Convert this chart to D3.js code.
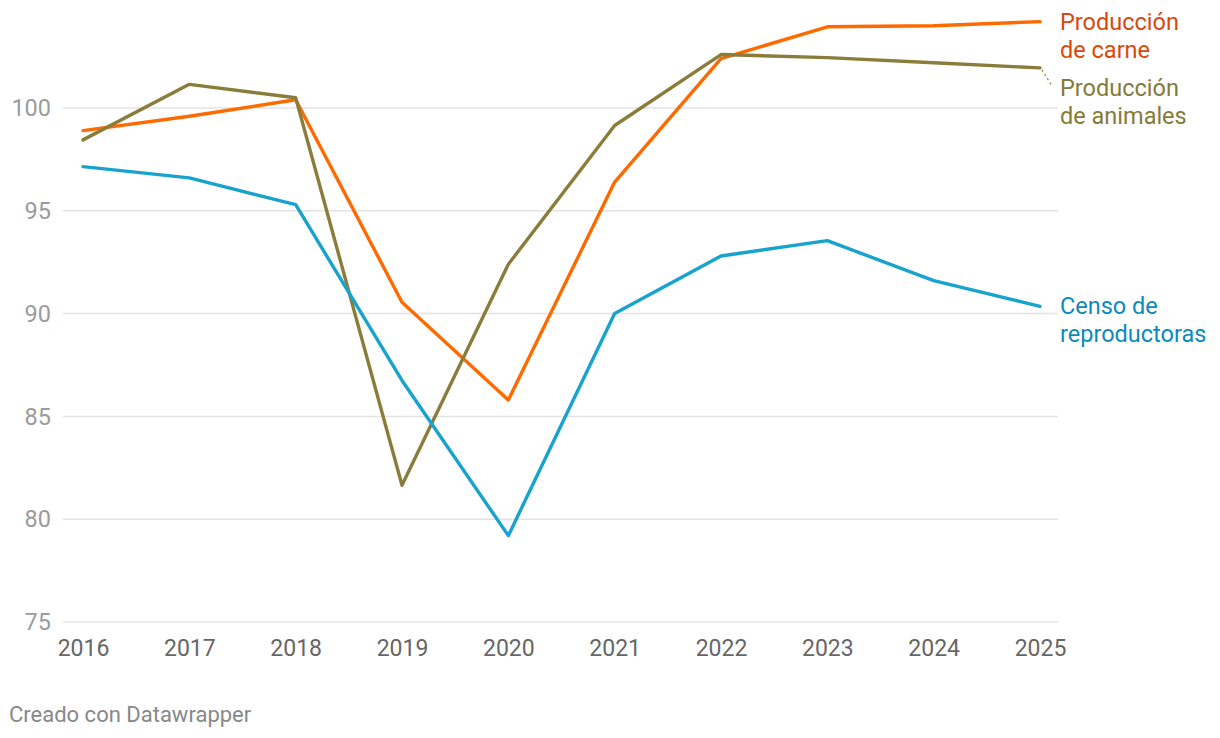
<!DOCTYPE html>
<html>
<head>
<meta charset="utf-8">
<script src="https://cdn.jsdelivr.net/npm/d3@7"></script>
<style>
  body { margin: 0; background: #fff; }
  text { font-family: Roboto, "Noto Sans", sans-serif; }
</style>
</head>
<body>
<svg width="1220" height="738"></svg>
<script>
// years on the x axis
var years = [2016, 2017, 2018, 2019, 2020, 2021, 2022, 2023, 2024, 2025];

// series values (index)
var carne    = [98.9, 99.6, 100.4, 90.55, 85.8, 96.4, 102.4, 103.95, 104.0, 104.2];
var animales = [98.45, 101.15, 100.5, 81.65, 92.4, 99.15, 102.6, 102.45, 102.2, 101.95];
var censo    = [97.15, 96.6, 95.3, 86.75, 79.2, 90.0, 92.8, 93.55, 91.6, 90.35];

var yTicks = [75, 80, 85, 90, 95, 100];

var series = [
  {name: ["Producción", "de carne"], values: carne, line: "#ff6a00", label: "#d9480a"},
  {name: ["Producción", "de animales"], values: animales, line: "#8a7d3b", label: "#857a38"},
  {name: ["Censo de", "reproductoras"], values: censo, line: "#18a3cf", label: "#0c8ab8"}
];

var svg = d3.select("svg");

var x = d3.scaleLinear()
    .domain([2016, 2025])
    .range([83, 1040]);

var y = d3.scaleLinear()
    .domain([75, 100])
    .range([622, 108]);

// grid lines + y labels
var grid = svg.append("g");
grid.selectAll("line")
    .data(yTicks)
    .enter()
    .append("line")
    .attr("x1", 63)
    .attr("x2", 1058)
    .attr("y1", d => y(d))
    .attr("y2", d => y(d))
    .attr("stroke", "#e3e3e3")
    .attr("stroke-width", 1.5);

grid.selectAll("text")
    .data(yTicks)
    .enter()
    .append("text")
    .attr("x", 51)
    .attr("y", d => y(d))
    .attr("dy", "0.35em")
    .attr("text-anchor", "end")
    .attr("fill", "#9b9b9b")
    .style("font-size", "23.5px")
    .text(d => d);

// x axis labels
var xAxis = svg.append("g")
    .attr("transform", "translate(0,622)")
    .call(d3.axisBottom(x).tickValues(years).tickFormat(d3.format("d")).tickSize(0).tickPadding(18));
xAxis.select(".domain").remove();
xAxis.selectAll("text")
    .attr("fill", "#666")
    .style("font-size", "23px")
    .style("font-family", "Roboto, 'Noto Sans', sans-serif");

// lines
var line = d3.line()
    .x((d, i) => x(years[i]))
    .y(d => y(d));

svg.selectAll(".series")
    .data(series)
    .enter()
    .append("path")
    .attr("class", "series")
    .attr("d", d => line(d.values))
    .attr("fill", "none")
    .attr("stroke", d => d.line)
    .attr("stroke-width", 3.4)
    .attr("stroke-linejoin", "round")
    .attr("stroke-linecap", "round");

// direct labels
var labelY = [30, 96, 314];
series.forEach(function(s, k) {
  var t = svg.append("text")
      .attr("x", 1060)
      .attr("y", labelY[k])
      .attr("fill", s.label)
      .style("font-size", "23.5px");
  s.name.forEach(function(part, j) {
    t.append("tspan")
        .attr("x", 1060)
        .attr("dy", j === 0 ? 0 : 28)
        .text(part);
  });
});

// dotted connector for the animales label
var last = animales.length - 1;
svg.append("line")
    .attr("x1", x(years[last]) + 2)
    .attr("y1", y(animales[last]) + 2)
    .attr("x2", 1052)
    .attr("y2", 86)
    .attr("stroke", "#8a7d3b")
    .attr("stroke-width", 1.2)
    .attr("stroke-dasharray", "2,3");

// footer
svg.append("text")
    .attr("x", 9)
    .attr("y", 722)
    .attr("fill", "#888")
    .style("font-size", "22px")
    .text("Creado con Datawrapper");
</script>
</body>
</html>
